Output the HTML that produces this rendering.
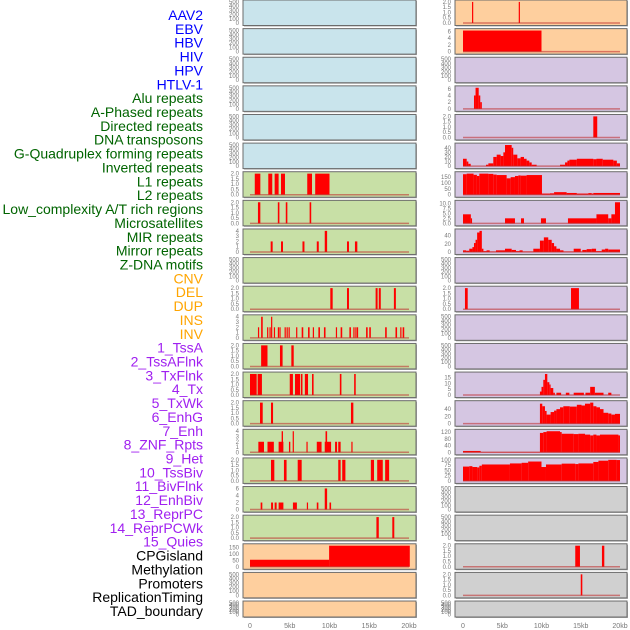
<!DOCTYPE html>
<html><head><meta charset="utf-8">
<style>
html,body{margin:0;padding:0;background:#fff;width:630px;height:630px;overflow:hidden}
svg{display:block}
</style></head>
<body>
<svg id="chart" width="630" height="630" xmlns="http://www.w3.org/2000/svg" font-family="Liberation Sans, sans-serif"></svg>
<script>
// ---------- labels ----------
const labels = ["AAV2","EBV","HBV","HIV","HPV","HTLV-1","Alu repeats","A-Phased repeats","Directed repeats","DNA transposons","G-Quadruplex forming repeats","Inverted repeats","L1 repeats","L2 repeats","Low_complexity A/T rich regions","Microsatellites","MIR repeats","Mirror repeats","Z-DNA motifs","CNV","DEL","DUP","INS","INV","1_TssA","2_TssAFlnk","3_TxFlnk","4_Tx","5_TxWk","6_EnhG","7_Enh","8_ZNF_Rpts","9_Het","10_TssBiv","11_BivFlnk","12_EnhBiv","13_ReprPC","14_ReprPCWk","15_Quies","CPGisland","Methylation","Promoters","ReplicationTiming","TAD_boundary"];
const labelGroups = [6,13,5,15,5];
const groupColors = ["#0000ff","#006400","#ffa500","#a020f0","#000000"];

// ---------- tick sets ----------
const tEmpty = [0,100,200,300,400,500];
const t2 = [0.0,0.5,1.0,1.5,2.0];
const t4 = [0,1,2,3,4];
const t6 = [0,2,4,6];
const t150 = [0,50,100,150];
const t40a = [0,10,20,30,40];
const t10 = [0.0,2.5,5.0,7.5,10.0];
const t40 = [0,20,40];
const t15 = [0,5,10,15];
const t120 = [0,40,80,120];
const t100 = [0,25,50,75,100];
const xTicks = [0,5,10,15,20];
const xTickLabels = ["0","5kb","10kb","15kb","20kb"];

// ---------- left column data: [startKb, endKb, value] ----------
const dL6 = [[0.6,1.3,2],[2.3,2.8,2],[3.1,3.6,2],[3.9,4.4,2],[7.2,7.8,2],[8.2,10.0,2]];
const dL7 = [[1.0,1.3,2],[3.5,3.7,2],[4.5,4.7,2],[7.5,7.7,2]];
const dL8 = [[2.6,2.85,2],[3.9,4.15,2],[6.6,6.85,2],[8.4,8.65,2],[9.4,9.7,4],[12.2,12.45,2],[13.2,13.5,2]];
const dL10 = [[10.1,10.4,2],[12.2,12.45,2],[15.8,16.05,2],[16.2,16.45,2],[18.1,18.35,2]];
const dL11 = [[1.0,1.15,2],[1.4,1.6,4],[2.15,2.3,2],[2.45,2.6,2],[2.65,2.8,4],[3.0,3.15,2],[3.5,3.65,2],[3.7,3.85,2],[4.35,4.5,2],[4.6,4.75,2],[4.85,5.0,2],[5.8,5.95,2],[6.5,6.7,2],[7.3,7.5,2],[7.9,8.05,2],[8.6,8.8,2],[9.3,9.5,2],[10.8,10.95,2],[11.4,11.6,2],[12.5,12.7,2],[13.0,13.15,2],[13.25,13.4,2],[13.45,13.6,2],[14.6,14.8,2],[15.0,15.2,2],[17.0,17.2,2],[18.3,18.5,2],[18.9,19.05,2],[19.2,19.4,2]];
const dL12 = [[1.4,2.2,2],[3.77,4.1,2],[5.2,5.5,2]];
const dL13 = [[0,0.84,2],[0.96,1.5,2],[5.0,5.4,2],[5.66,6.3,2],[6.4,6.6,2],[6.9,7.3,2],[7.8,8.0,2],[11.3,11.5,2],[13.1,13.3,2]];
const dL14 = [[1.26,1.6,2],[2.64,2.9,2],[12.7,13.0,2]];
const dL15 = [[1.05,1.76,2],[2.2,3.0,2],[3.6,4.2,2],[3.98,4.15,4],[4.9,5.07,2],[5.37,5.5,4],[7.1,7.25,2],[8.4,9.0,2],[9.4,10.2,2],[9.5,9.7,4],[10.7,10.95,2],[11.1,11.4,2],[12.75,12.9,2]];
const dL16 = [[2.64,3.06,2],[4.27,4.6,2],[6.0,6.5,2],[11.1,11.4,2],[11.6,12.0,2],[15.2,15.6,2],[16.0,16.7,2],[17.0,17.5,2]];
const dL17 = [[1.34,1.55,2],[2.65,2.9,2],[3.1,3.35,2],[3.6,4.2,2],[5.4,5.9,2],[7.15,7.3,2],[8.4,8.6,2],[9.4,9.7,6],[10.0,10.2,2]];
const dL18 = [[15.9,16.2,2],[17.9,18.15,2]];
const dL19 = [[0,9.95,55],[9.95,20.1,165]];

// ---------- right column data ----------
const dR0 = [[1.15,1.3,2],[7.1,7.25,2]];
const dR1 = [[0,10.0,6.3]];
const dR3 = [[1.4,1.6,4],[1.6,2.0,6.3],[2.0,2.2,4],[2.2,2.4,2]];
const dR4 = [[16.6,17.1,2]];
const dR5 = [[0,0.47,16],[0.47,0.68,10],[0.68,0.98,5],[2.93,3.23,3],[3.23,3.86,6],[3.86,4.29,20],[4.29,4.8,25],[4.8,5.14,22],[5.14,5.35,30],[5.35,6.2,46],[6.2,6.4,40],[6.4,6.92,25],[6.92,7.34,17],[7.34,7.77,20],[7.77,8.1,16],[8.1,8.45,12],[8.45,8.75,8],[8.75,9.38,3],[12.36,13.0,3],[13.0,13.3,8],[13.3,13.55,12],[13.55,14.5,14],[14.5,16.6,16],[16.6,17.0,15],[17.0,17.8,16],[17.8,19.15,14],[19.15,19.6,12],[19.6,20.0,6]];
const dR6 = [[0,0.47,175],[0.47,1.35,180],[1.35,1.77,170],[1.77,2.08,160],[2.08,3.23,180],[3.23,3.86,178],[3.86,4.29,172],[4.29,5.56,168],[5.56,6.07,140],[6.07,6.62,150],[6.62,7.05,160],[7.05,7.34,165],[7.34,8.1,163],[8.1,10.06,168],[10.06,11.08,10],[11.08,11.6,12],[11.6,13.2,22],[13.2,14.5,15],[14.5,15.96,10],[15.96,16.4,14],[16.4,16.6,10],[16.6,20.0,15]];
const dR7 = [[0,1.0,4.5],[1.0,1.1,2.5],[5.35,6.62,2.5],[7.39,7.77,2.5],[9.93,10.57,2.5],[13.37,17.0,2.5],[17.0,18.5,4.5],[18.5,18.9,2.5],[18.9,19.36,4.5],[19.36,20.0,10.5]];
const dR8 = [[0,0.4,4],[0.4,0.8,3],[0.8,1.2,8],[1.2,1.4,12],[1.4,1.6,22],[1.6,1.8,30],[1.8,2.1,48],[2.1,2.4,52],[2.4,2.6,8],[2.6,3.0,2],[3.0,3.4,4],[3.4,4.2,1],[4.2,5.35,4],[5.35,6.2,8],[6.2,6.75,5],[6.75,7.2,2],[7.2,7.6,4],[7.6,8.96,1],[8.96,9.8,8],[9.8,10.3,28],[10.3,10.86,36],[10.86,11.3,30],[11.3,11.6,22],[11.6,11.9,14],[11.9,12.36,8],[12.36,12.8,4],[12.8,14.1,1],[14.1,15.0,8],[15.0,15.2,1],[15.2,15.75,5],[15.75,16.4,7],[16.4,16.95,8],[16.95,17.67,2],[17.67,18.1,6],[18.1,18.5,8],[18.5,20.0,6]];
const dR10 = [[0.25,0.6,2],[13.76,14.77,2]];
const dR13 = [[9.8,10.0,3],[10.0,10.23,7],[10.23,10.44,13],[10.44,10.74,18],[10.74,11.0,11],[11.0,11.16,9],[11.16,11.5,6],[11.5,11.7,2],[11.9,12.5,2],[13.1,13.55,2],[14.1,15.4,2],[15.6,16.2,2],[16.2,16.8,7],[16.8,17.9,2],[18.5,18.9,2]];
const dR14 = [[9.8,10.1,55],[10.1,10.44,48],[10.44,10.65,35],[10.65,11.16,25],[11.16,11.6,32],[11.6,11.9,36],[11.9,12.36,40],[12.36,12.78,45],[12.78,13.6,48],[13.6,14.5,47],[14.5,15.1,52],[15.1,15.54,50],[15.54,16.2,55],[16.2,16.6,58],[16.6,17.0,48],[17.0,17.45,45],[17.45,17.9,40],[17.9,18.5,30],[18.5,18.9,28],[18.9,19.36,25],[19.36,20.0,27]];
const dR15 = [[0,2.25,8],[2.25,9.8,2],[9.8,10.23,115],[10.23,10.65,120],[10.65,12.36,125],[12.36,12.57,120],[12.57,14.1,110],[14.1,14.7,108],[14.7,15.54,110],[15.54,16.2,105],[16.2,16.6,100],[16.6,17.0,105],[17.0,17.45,100],[17.45,19.8,105],[19.8,20.0,100]];
const dR16 = [[0,0.8,68],[0.8,1.2,70],[1.2,1.8,66],[1.8,2.08,64],[2.08,2.4,72],[2.4,5.98,78],[5.98,7.47,83],[7.47,8.3,86],[8.3,10.0,92],[10.0,10.57,66],[10.57,12.57,78],[12.57,14.3,82],[14.3,14.7,80],[14.7,16.6,83],[16.6,17.25,90],[17.25,18.5,96],[18.5,19.57,100],[19.57,20.0,99]];
const dR19 = [[14.3,14.9,2],[17.7,18.0,2]];
const dR20 = [[15.0,15.2,2]];

const BLUE="#c9e4ec", GREEN="#c8e0a6", PEACH="#fecf9e", LAV="#d5c6e2", GRAY="#d0d0d0";
const left = [
 [BLUE,tEmpty,null],[BLUE,tEmpty,null],[BLUE,tEmpty,null],[BLUE,tEmpty,null],[BLUE,tEmpty,null],[BLUE,tEmpty,null],
 [GREEN,t2,dL6],[GREEN,t2,dL7],[GREEN,t4,dL8],[GREEN,tEmpty,null],[GREEN,t2,dL10],[GREEN,t4,dL11],[GREEN,t2,dL12],
 [GREEN,t2,dL13],[GREEN,t2,dL14],[GREEN,t4,dL15],[GREEN,t2,dL16],[GREEN,t6,dL17],[GREEN,t2,dL18],
 [PEACH,t150,dL19],[PEACH,tEmpty,null],[PEACH,tEmpty,null]];
const right = [
 [PEACH,t2,dR0],[PEACH,t6,dR1],[LAV,tEmpty,null],[LAV,t6,dR3],[LAV,t2,dR4],[LAV,t40a,dR5],[LAV,t150,dR6],
 [LAV,t10,dR7],[LAV,t40,dR8],[LAV,tEmpty,null],[LAV,t2,dR10],[LAV,tEmpty,null],[LAV,tEmpty,null],[LAV,t15,dR13],
 [LAV,t40,dR14],[LAV,t120,dR15],[LAV,t100,dR16],[GRAY,tEmpty,null],[GRAY,tEmpty,null],[GRAY,t2,dR19],[GRAY,t2,dR20],[GRAY,tEmpty,null]];
function ymax(ticks, data){
  let m = ticks[ticks.length-1];
  if (data) data.forEach(d=>{ if(d[2]>m) m=d[2]; });
  return m*1.02;
}

const NS="http://www.w3.org/2000/svg";
const svg=document.getElementById('chart');
function mk(tag, attrs, parent){
  const e=document.createElementNS(NS,tag);
  for(const k in attrs) e.setAttribute(k,attrs[k]);
  (parent||svg).appendChild(e); return e;
}

// labels
let li=0;
labelGroups.forEach((n,g)=>{
  for(let i=0;i<n;i++){
    const t=mk('text',{x:203,y:15+li*13.86+5,'text-anchor':'end','font-size':14,fill:groupColors[g]});
    t.textContent=labels[li];
    
    
    li++;
  }
});

function drawCol(panels, px0, pw, x0, kbw, tickX, colName){
  panels.forEach((p,r)=>{
    const top = r*28.62;
    const h = (r===21)?16:25.5;
    const g=mk('g',{});
    
    
    mk('rect',{x:px0+1,y:top+1,width:pw,height:h,fill:'#aaa'},g);
    mk('rect',{x:px0,y:top,width:pw,height:h,fill:p[0],stroke:'#6b6b6b','stroke-width':1},g);
    const ticks=p[1], data=p[2];
    const ym=ymax(ticks,data);
    const yt=top+1.5, yb=top+h-2.5;
    const Y=v=>yb-(v/ym)*(yb-yt);
    const X=kb=>x0+kb*kbw;
    ticks.forEach(t=>{
      const tx=mk('text',{x:tickX,y:Y(t)+2,'text-anchor':'end','font-size':6,fill:'#777'},g);
      tx.textContent = (ticks===t2||ticks===t10)? t.toFixed(1) : String(t);
      
      
    });
    if(data){
      data.forEach(d=>{
        const b=mk('rect',{x:X(d[0]),y:Y(d[2]),width:Math.max(1.2,X(d[1])-X(d[0])),height:Y(0)-Y(d[2]),fill:'#ff0000'},g);
        
        
      });
      const bl=mk('line',{x1:X(0),x2:X(20),y1:Y(0),y2:Y(0),stroke:'rgba(190,40,40,0.55)','stroke-width':1.5},g);
      
      
    }
  });
  xTicks.forEach((k,i)=>{
    const t=mk('text',{x:x0+k*kbw,y:628,'text-anchor':'middle','font-size':7,fill:'#777'});
    t.textContent=xTickLabels[i];
    
    
  });
}
drawCol(left,243,173,250,7.95,239,'left');
drawCol(right,455,172,463,7.85,451,'right');
</script>
</body></html>
